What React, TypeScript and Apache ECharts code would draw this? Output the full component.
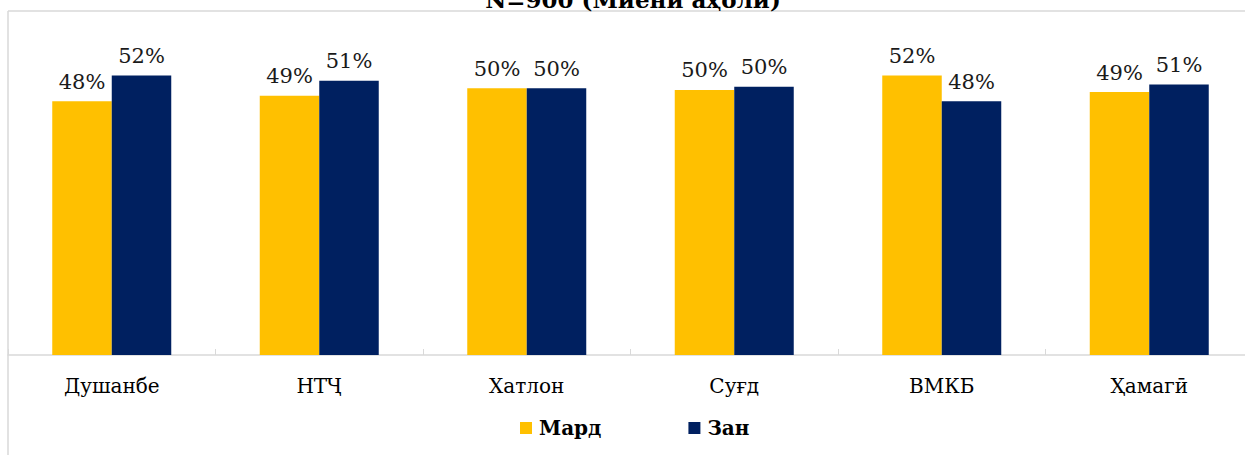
import React, { useEffect, useRef } from "react";
import * as echarts from "echarts";

const categories = ["Душанбе", "НТҶ", "Хатлон", "Суғд", "ВМКБ", "Ҳамагӣ"];
const mardValues = [0.476, 0.486, 0.5, 0.497, 0.524, 0.493];
const zanValues = [0.524, 0.514, 0.5, 0.503, 0.476, 0.507];
const seriesNames = ["Мард", "Зан"];
const titleText = "N=900 (Миёни аҳолӣ)";

const FONT = "'DejaVu Serif', serif";

export default function App() {
  const ref = useRef<HTMLDivElement>(null);
  useEffect(() => {
    document.body.style.margin = "0";
    document.body.style.overflow = "hidden";
    const chart = echarts.init(ref.current!, undefined, { renderer: "svg" });
    const label = {
      show: true,
      position: "top",
      distance: 9,
      fontFamily: FONT,
      fontSize: 21,
      color: "#1a1a1a",
      formatter: (p: any) => Math.round(p.value * 100) + "%",
    };
    chart.setOption({
      animation: false,
      backgroundColor: "#ffffff",
      graphic: [
        {
          type: "line",
          shape: { x1: 8, y1: 11, x2: 1260, y2: 11 },
          style: { stroke: "#d9d9d9", lineWidth: 1.5 },
        },
        {
          type: "line",
          shape: { x1: 8, y1: 11, x2: 8, y2: 455 },
          style: { stroke: "#d9d9d9", lineWidth: 1.5 },
        },
        {
          type: "text",
          x: 633,
          y: 11,
          style: {
            text: titleText,
            fontFamily: FONT,
            fontWeight: "bold",
            fontSize: 23,
            fill: "#000000",
            align: "center",
            verticalAlign: "bottom",
          },
        },
      ],
      legend: {
        left: 520,
        top: 418,
        padding: 0,
        itemWidth: 12,
        itemHeight: 12,
        itemGap: 87,
        icon: "rect",
        textStyle: {
          fontFamily: FONT,
          fontWeight: "bold",
          fontSize: 20,
          color: "#000000",
          padding: [0, 0, 0, 2],
        },
        data: seriesNames,
      },
      grid: { left: 8, top: 35, width: 1245, height: 320, containLabel: false },
      xAxis: {
        type: "category",
        data: categories,
        axisLine: { show: true, lineStyle: { color: "#d9d9d9", width: 1.5 } },
        axisTick: { show: true, inside: true, length: 6, lineStyle: { color: "#d9d9d9" } },
        axisLabel: {
          fontFamily: FONT,
          fontSize: 20,
          color: "#000000",
          margin: 21,
        },
      },
      yAxis: {
        type: "value",
        min: 0,
        max: 0.6,
        show: false,
        splitLine: { show: false },
      },
      series: [
        {
          name: seriesNames[0],
          type: "bar",
          data: mardValues,
          barWidth: 59.5,
          barGap: "0%",
          itemStyle: { color: "#FFC000" },
          label,
        },
        {
          name: seriesNames[1],
          type: "bar",
          data: zanValues,
          barWidth: 59.5,
          barGap: "0%",
          itemStyle: { color: "#002060" },
          label,
        },
      ],
    });
    return () => chart.dispose();
  }, []);
  return <div ref={ref} style={{ width: 1260, height: 455 }} />;
}
